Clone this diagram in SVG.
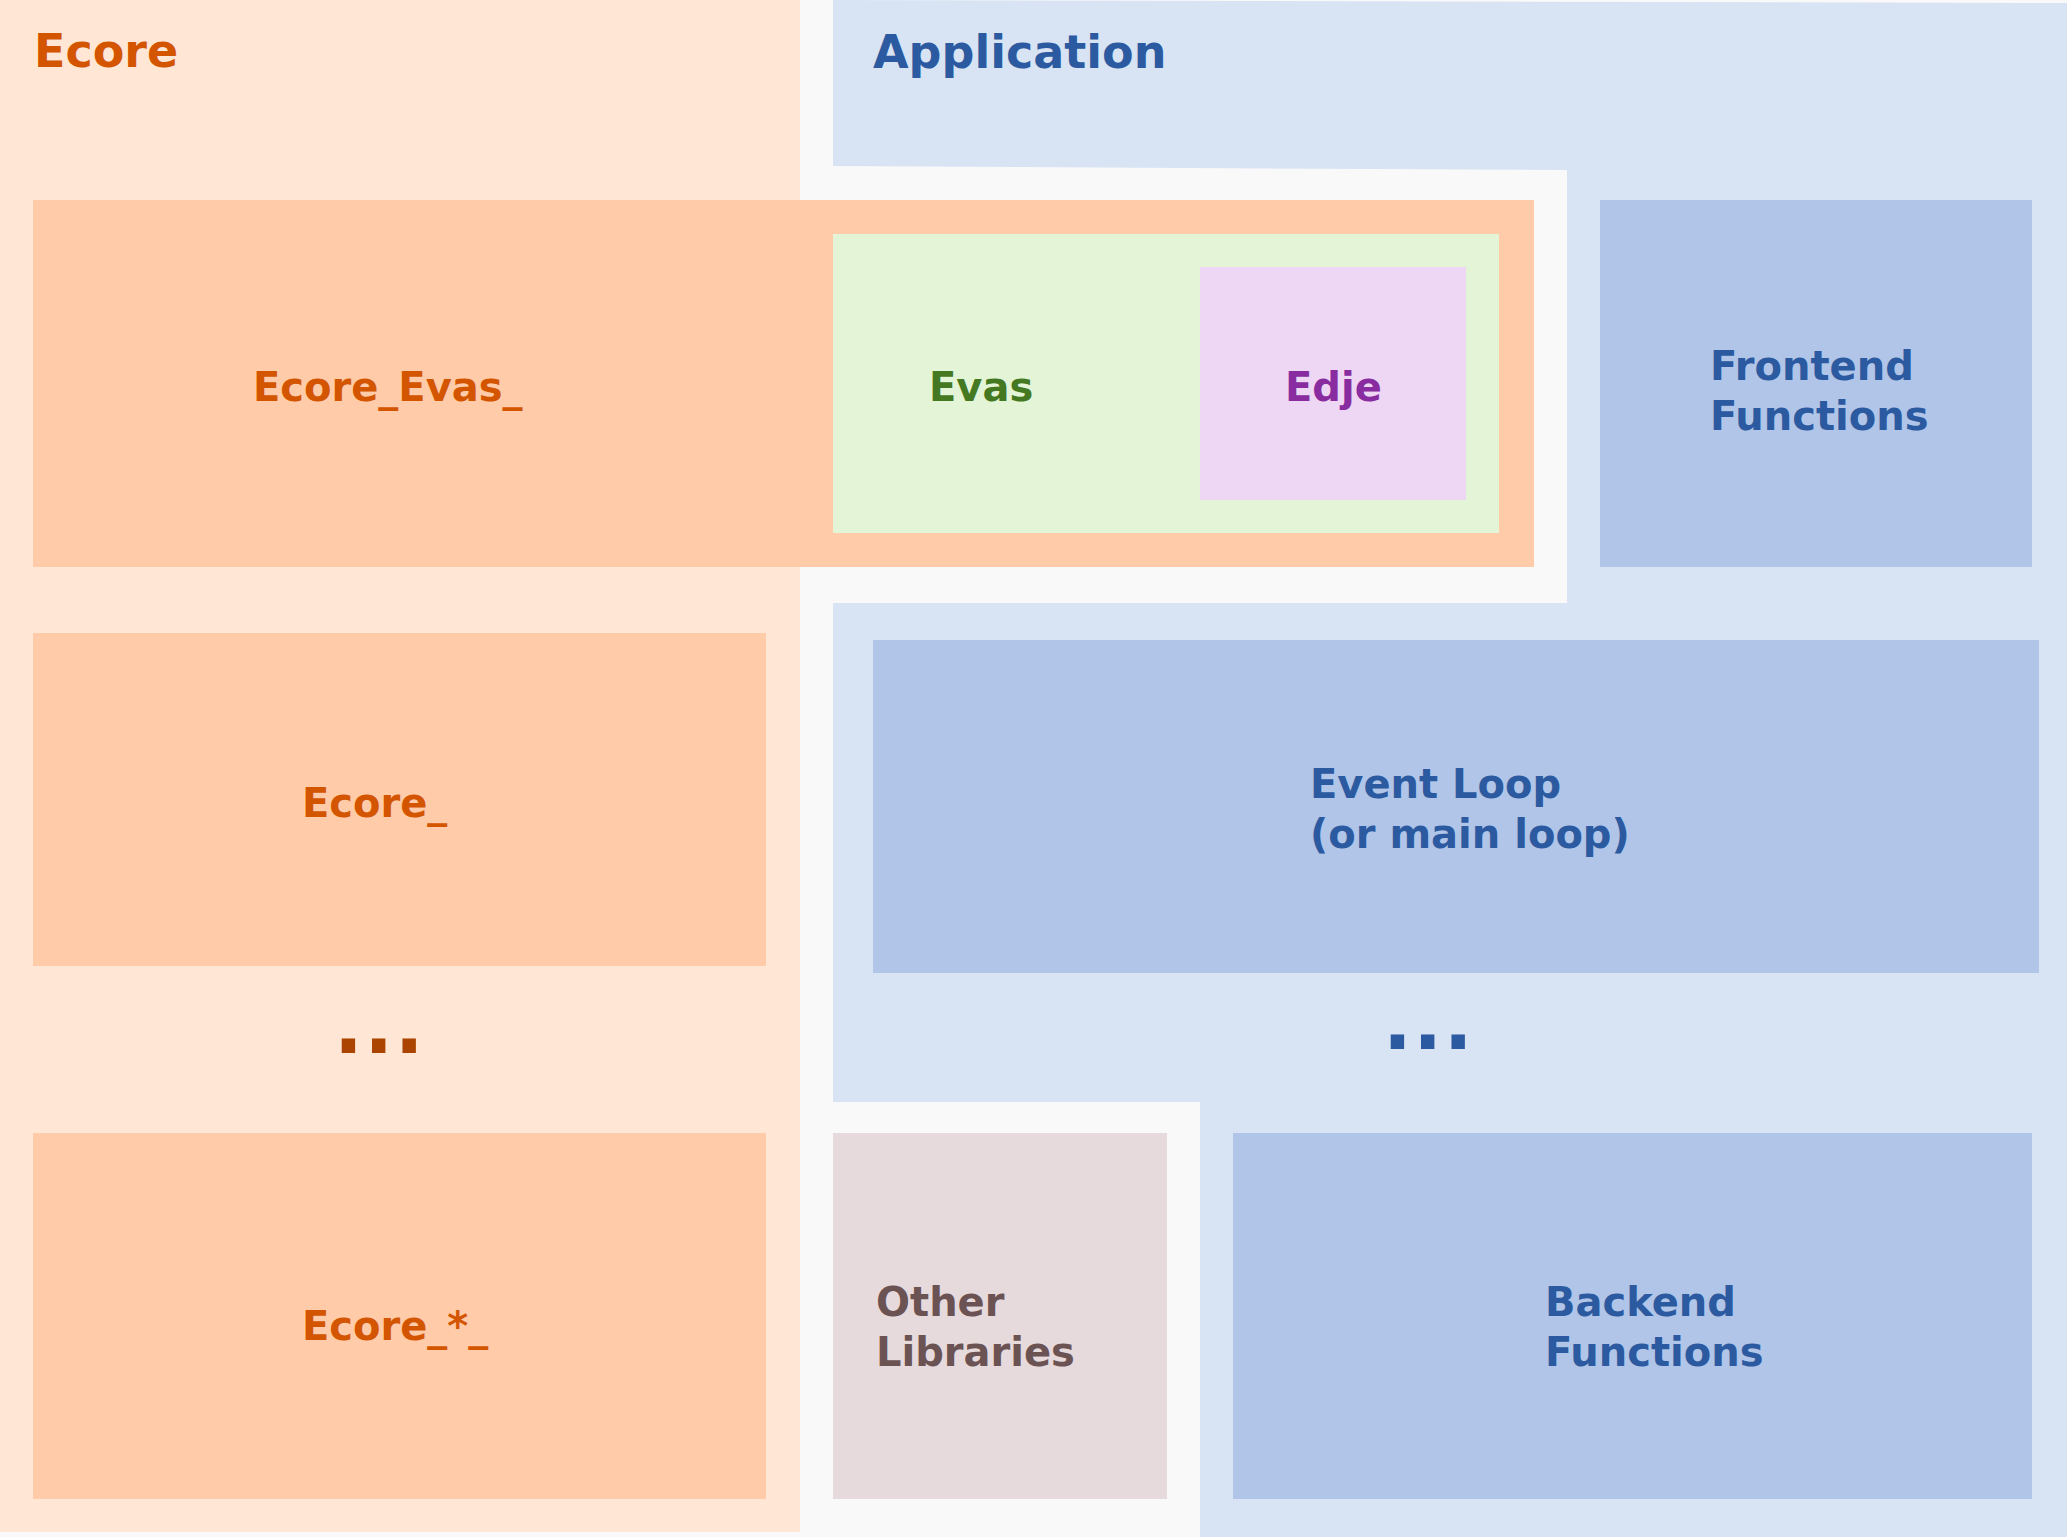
<svg xmlns="http://www.w3.org/2000/svg" width="2067" height="1537" viewBox="0 0 2067 1537">
<style>
text{font-family:"DejaVu Sans","Liberation Sans",sans-serif;font-weight:bold;}
.t{font-size:46px;}
.l{font-size:40px;}
.d{font-size:76px;letter-spacing:1.5px;}
.or{fill:#d45500;}
.bl{fill:#2c5aa0;}
.box{fill:#ffcba8;}
.fb{fill:#b0c5e8;}
</style>
<rect x="0" y="0" width="2067" height="1537" fill="#f9f9f9"/>
<g id="ecore">
<rect x="0" y="0" width="800" height="1532" fill="#ffe6d5"/>
<text class="t or" x="34" y="67">Ecore</text>
</g>
<g id="application">
<polygon points="833,0 2067,3 2067,1537 1200,1537 1200,1102 833,1102 833,603 1567,603 1567,170 833,166" fill="#d8e3f4"/>
<text class="t bl" x="873" y="68">Application</text>
</g>
<g id="ecore_evas">
<rect class="box" x="33" y="200" width="1501" height="367"/>
<text class="l or" x="253" y="401">Ecore_Evas_</text>
</g>
<g id="evas">
<rect x="833" y="234" width="666" height="299" fill="#e3f4d7"/>
<text class="l" x="929" y="401" fill="#447821">Evas</text>
</g>
<g id="edje">
<rect x="1200" y="267" width="266" height="233" fill="#eed7f4"/>
<text class="l" x="1285" y="401" fill="#892ca0">Edje</text>
</g>
<g id="frontend">
<rect class="fb" x="1600" y="200" width="432" height="367"/>
<text class="l bl" x="1710" y="380">Frontend</text>
<text class="l bl" x="1710" y="430">Functions</text>
</g>
<g id="ecore_">
<rect class="box" x="33" y="633" width="733" height="333"/>
<text class="l or" x="302" y="817">Ecore_</text>
</g>
<g id="eventloop">
<rect class="fb" x="873" y="640" width="1166" height="333"/>
<text class="l bl" x="1310" y="798">Event Loop</text>
<text class="l bl" x="1310" y="848">(or main loop)</text>
</g>
<g id="ecore_dots">
<text class="d" x="334" y="1053" fill="#aa4400">...</text>
</g>
<g id="app_dots">
<text class="d" x="1383" y="1049" fill="#2c5aa0">...</text>
</g>
<g id="ecore_star">
<rect class="box" x="33" y="1133" width="733" height="366"/>
<text class="l or" x="302" y="1340">Ecore_*_</text>
</g>
<g id="otherlibs">
<rect x="833" y="1133" width="334" height="366" fill="#e6dadd"/>
<text class="l" x="876" y="1316" fill="#6c5353">Other</text>
<text class="l" x="876" y="1366" fill="#6c5353">Libraries</text>
</g>
<g id="backend">
<rect class="fb" x="1233" y="1133" width="799" height="366"/>
<text class="l bl" x="1545" y="1316">Backend</text>
<text class="l bl" x="1545" y="1366">Functions</text>
</g>
<g id="connectors"/>
</svg>
